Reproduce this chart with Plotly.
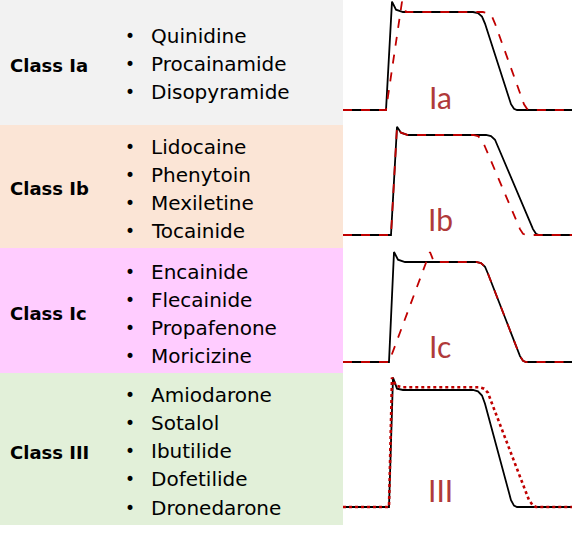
import plotly.graph_objects as go

W, H = 572, 536

# left panel text
classes = ['Class Ia', 'Class Ib', 'Class Ic', 'Class III']
drugs = [['Quinidine', 'Procainamide', 'Disopyramide'],
         ['Lidocaine', 'Phenytoin', 'Mexiletine', 'Tocainide'],
         ['Encainide', 'Flecainide', 'Propafenone', 'Moricizine'],
         ['Amiodarone', 'Sotalol', 'Ibutilide', 'Dofetilide', 'Dronedarone']]
curve_labels = ['Ia', 'Ib', 'Ic', 'III']

# action potentials: time (arb. units), voltage (mV)
ia_t_base = [0, 43, 49, 53, 60, 130, 135, 139, 142, 168, 171, 174, 229]
ia_v_base = [-85, -85, 9, 2, 0, 0, -1, -4, -10, -80, -84, -85, -85]
ia_t_drug = [0, 43, 59, 63, 140, 145, 149, 152, 181, 184, 187, 229]
ia_v_drug = [-85, -85, 9, 0, 0, -1, -4, -10, -80, -84, -85, -85]

ib_t_base = [0, 48, 54, 58, 65, 143, 148, 152, 155, 190, 193, 196, 229]
ib_v_base = [-85, -85, 7, 2, 0, 0, -1, -4, -10, -80, -84, -85, -85]
ib_t_drug = [0, 48, 54, 58, 65, 130, 135, 139, 142, 177, 180, 183, 229]
ib_v_drug = [-85, -85, 7, 2, 0, 0, -1, -4, -10, -80, -84, -85, -85]

ic_t_base = [0, 46, 51, 55, 62, 133, 138, 142, 145, 177, 180, 183, 229]
ic_v_base = [-85, -85, 8.5, 2, 0, 0, -1, -4, -10, -80, -84, -85, -85]
ic_t_drug = [0, 46, 87, 91, 133, 138, 142, 145, 177, 180, 183, 229]
ic_v_drug = [-85, -85, 8.5, 0, 0, -1, -4, -10, -80, -84, -85, -85]

iii_t_base = [0, 46, 50, 54, 60, 130, 135, 139, 142, 168, 171, 174, 229]
iii_v_base = [-85, -85, 9, 1, 0, 0, -1, -4, -10, -80, -84, -85, -85]
iii_t_drug = [0, 46, 49, 53, 60, 136, 141, 145, 148, 186, 190, 193, 229]
iii_v_drug = [-85, -85, 9, 3, 2, 2, 1, -2, -8, -80, -84, -85, -85]

curves = [(ia_t_base, ia_v_base, ia_t_drug, ia_v_drug),
          (ib_t_base, ib_v_base, ib_t_drug, ib_v_drug),
          (ic_t_base, ic_v_base, ic_t_drug, ic_v_drug),
          (iii_t_base, iii_v_base, iii_t_drug, iii_v_drug)]

# layout in pixels
bands = [(0, 125), (125, 248), (248, 373), (373, 525)]
band_colors = ['#f2f2f2', '#fbe5d6', '#ffccff', '#e2f0d9']
base_px = [110, 235, 362, 507]
plat_px = [12, 135, 262, 390]
class_y = [65, 188, 313, 452]
label_y = [97, 219, 346, 490]
item_y = [[36, 64, 92], [147, 175, 203, 231], [272, 300, 328, 356],
          [395, 423, 451, 479, 508]]

fig = go.Figure()
shapes, annotations = [], []
for i in range(4):
    y0, y1 = bands[i]
    shapes.append(dict(type='rect', xref='paper', yref='paper', x0=0, x1=343 / W,
                       y0=1 - y1 / H, y1=1 - y0 / H, fillcolor=band_colors[i],
                       line=dict(width=0), layer='below'))
    annotations.append(dict(xref='paper', yref='paper', x=8 / W, y=1 - class_y[i] / H,
                            text='<b>' + classes[i] + '</b>', showarrow=False,
                            xanchor='left', yanchor='middle',
                            font=dict(size=18, color='black', family='DejaVu Sans')))
    for d, yy in zip(drugs[i], item_y[i]):
        annotations.append(dict(xref='paper', yref='paper', x=123 / W, y=1 - yy / H,
                                text='•', showarrow=False, xanchor='left', yanchor='middle',
                                font=dict(size=17, color='black', family='DejaVu Sans')))
        annotations.append(dict(xref='paper', yref='paper', x=149 / W, y=1 - yy / H,
                                text=d, showarrow=False, xanchor='left', yanchor='middle',
                                font=dict(size=20, color='black', family='DejaVu Sans')))
    annotations.append(dict(xref='paper', yref='paper', x=440 / W, y=1 - label_y[i] / H,
                            text=curve_labels[i], showarrow=False, xanchor='center',
                            yanchor='middle',
                            font=dict(size=30, color='#b03a3a', family='Lato')))

    tb, vb, td, vd = curves[i]
    ax = '' if i == 0 else str(i + 1)
    s = (base_px[i] - plat_px[i]) / 85.0
    top = plat_px[i] - 10 * s
    bot = base_px[i] + 10 * s
    fig.add_trace(go.Scatter(x=tb, y=vb, mode='lines', xaxis='x' + ax, yaxis='y' + ax,
                             line=dict(color='black', width=1.8), cliponaxis=False))
    fig.add_trace(go.Scatter(x=td, y=vd, mode='lines', xaxis='x' + ax, yaxis='y' + ax,
                             line=dict(color='#c00000', width=2.6 if i == 3 else 1.8,
                                       dash='dot' if i == 3 else 'dash'),
                             cliponaxis=False))
    fig.layout['xaxis' + ax] = dict(domain=[343 / W, 1], range=[0, 229], visible=False,
                                    fixedrange=True)
    fig.layout['yaxis' + ax] = dict(domain=[max(0, 1 - bot / H), min(1, 1 - top / H)],
                                    range=[-95, 10], visible=False, anchor='x' + ax)

fig.update_layout(width=W, height=H, margin=dict(l=0, r=0, t=0, b=0),
                  paper_bgcolor='white', plot_bgcolor='rgba(0,0,0,0)',
                  showlegend=False, shapes=shapes, annotations=annotations)
fig.write_html('out.html', config={'displayModeBar': False},
               post_script="document.body.style.margin='0';")
